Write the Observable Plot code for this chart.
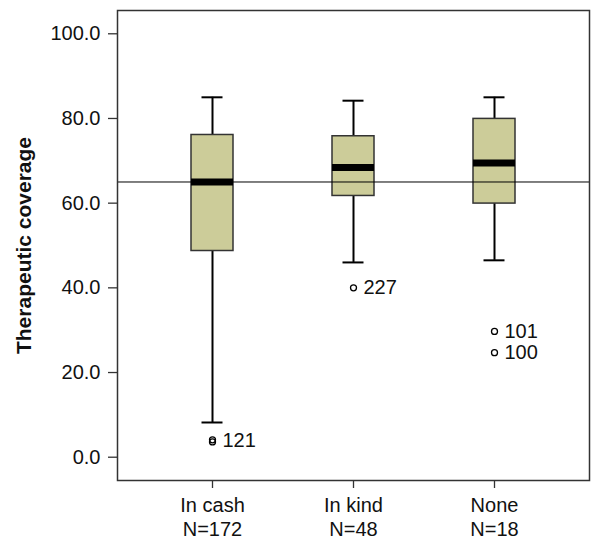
<!DOCTYPE html>
<html><head><meta charset="utf-8">
<script src="https://cdn.jsdelivr.net/npm/d3@7"></script>
<script src="https://cdn.jsdelivr.net/npm/@observablehq/plot@0.6"></script>
<style>body{margin:0;background:#fff}</style>
</head><body><div id="chart"></div>
<script>
const categories = ["In cash", "In kind", "None"];
const counts = [172, 48, 18];
const whiskerLow = [8.2, 46.0, 46.5];
const q1 = [48.7, 61.7, 59.9];
const median = [65.0, 68.4, 69.5];
const q3 = [76.1, 75.8, 79.9];
const whiskerHigh = [85.0, 84.2, 85.0];
const outlierGroup = ["In cash", "In cash", "In kind", "None", "None"];
const outlierValue = [3.6, 4.1, 40.0, 29.7, 24.7];
const labelGroup = ["In cash", "In kind", "None", "None"];
const labelValue = [3.9, 40.0, 29.7, 24.7];
const labelText = ["121", "227", "101", "100"];
const referenceValue = [65.0];
const yTicks = [0, 20, 40, 60, 80, 100];
const yTitle = "Therapeutic coverage";

const font = "'Liberation Sans', Arial, Helvetica, sans-serif";

const chart = Plot.plot({
  width: 596,
  height: 541,
  marginLeft: 117,
  marginRight: 7,
  marginTop: 10,
  marginBottom: 61,
  style: {fontFamily: font, fontSize: "20px", color: "#111", background: "#fff"},
  x: {type: "band", domain: categories, paddingInner: 0.7, paddingOuter: 0.52, label: null},
  y: {domain: [-5.5, 105.5], label: null},
  marks: [
    Plot.axisY({ticks: yTicks, tickFormat: d3.format(".1f"), tickSize: 9, tickPadding: 8, fontSize: 20, stroke: "#333", strokeWidth: 1.3, label: null}),
    Plot.axisX({tickSize: 8, tickFormat: () => "", stroke: "#333", strokeWidth: 1.3, label: null}),
    Plot.text(categories, {x: categories, text: (d, i) => d + "\nN=" + counts[i], frameAnchor: "bottom", lineAnchor: "top", dy: 13.5, lineHeight: 1.24, fontSize: 20, fill: "#111"}),
    Plot.ruleX(categories, {x: categories, y1: q3, y2: whiskerHigh, strokeWidth: 2, stroke: "#000"}),
    Plot.ruleX(categories, {x: categories, y1: whiskerLow, y2: q1, strokeWidth: 2, stroke: "#000"}),
    Plot.tickY(categories, {x: categories, y: whiskerHigh, strokeWidth: 2, stroke: "#000", insetLeft: 10.5, insetRight: 10.5}),
    Plot.tickY(categories, {x: categories, y: whiskerLow, strokeWidth: 2, stroke: "#000", insetLeft: 10.5, insetRight: 10.5}),
    Plot.barY(categories, {x: categories, y1: q1, y2: q3, fill: "#cccc99", stroke: "#333", strokeWidth: 1.5}),
    Plot.tickY(categories, {x: categories, y: median, strokeWidth: 7, stroke: "#000"}),
    Plot.ruleY(referenceValue, {y: d => d, stroke: "#000", strokeWidth: 1}),
    Plot.dot(outlierGroup, {x: outlierGroup, y: outlierValue, r: 3, fill: "none", stroke: "#000", strokeWidth: 1.3}),
    Plot.text(labelGroup, {x: labelGroup, y: labelValue, text: labelText, dx: 10, textAnchor: "start", fontSize: 20, fill: "#111"}),
    Plot.text([yTitle], {frameAnchor: "left", dx: -93, rotate: -90, textAnchor: "middle", lineAnchor: "middle", text: d => d, fontSize: 21, fontWeight: "bold", fill: "#111"}),
    Plot.frame({stroke: "#333", strokeWidth: 1.5})
  ]
});
document.getElementById("chart").appendChild(chart);
</script>
</body></html>
